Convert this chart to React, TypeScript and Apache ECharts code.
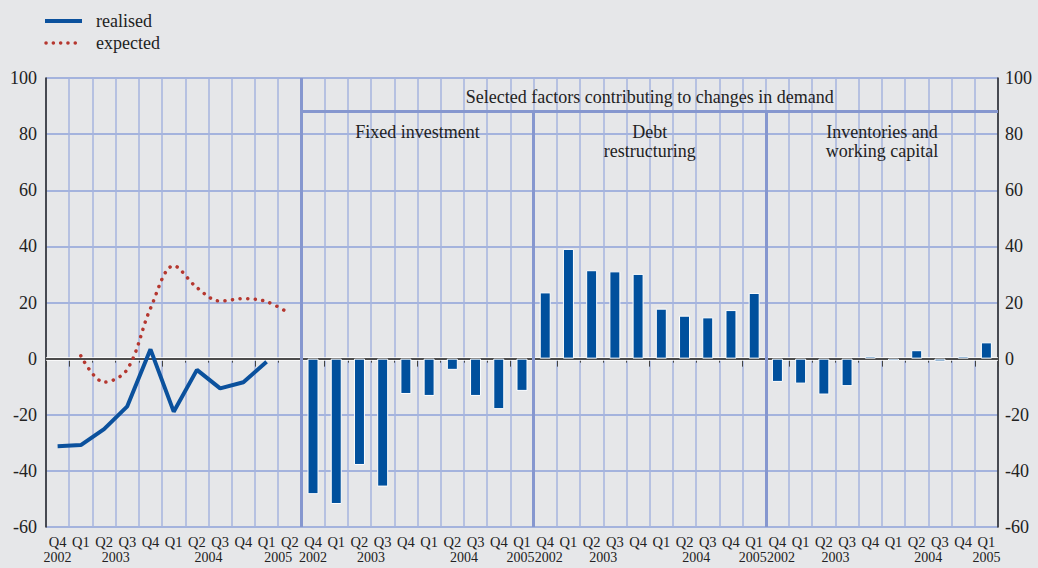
import React, { useEffect, useRef } from "react";
import * as echarts from "echarts";

const FONT = "'Liberation Serif', 'Times New Roman', serif";

// Category (quarter) labels
const leftQuarters = ["Q4", "Q1", "Q2", "Q3", "Q4", "Q1", "Q2", "Q3", "Q4", "Q1", "Q2"];
const leftYears = ["2002", "2003", "2003", "2003", "2003", "2004", "2004", "2004", "2004", "2005", "2005"];
const panelQuarters = ["Q4", "Q1", "Q2", "Q3", "Q4", "Q1", "Q2", "Q3", "Q4", "Q1"];
const panelYears = ["2002", "2003", "2003", "2003", "2003", "2004", "2004", "2004", "2004", "2005"];

// Left panel: survey balances
const realised = [-31.2, -30.8, -25.1, -17.0, 3.3, -18.9, -4.0, -10.6, -8.4, -1.1, null];
const expected = [null, 1.0, -8.4, -3.8, 17.9, 33.1, 25.3, 20.5, 21.4, 20.3, 16.0];

// Right panels: factors
const fixedInvestment = [-48.3, -51.8, -37.9, -45.6, -12.6, -13.3, -4.0, -13.3, -18.0, -11.5];
const debtRestructuring = [23.6, 39.1, 31.5, 31.1, 30.2, 17.8, 15.3, 14.7, 17.3, 23.4];
const inventories = [-8.3, -8.9, -12.8, -9.8, 0.8, -0.8, 3.0, -1.0, 0.8, 5.8];

const panelTitles = ["Fixed investment", "Debt\nrestructuring", "Inventories and\nworking capital"];
const headerTitle = "Selected factors contributing to changes in demand";
const headerLevel = 88;
const legendNames = ["realised", "expected"];

const BLUE = "#0b519d";
const RED = "#b5372f";

export default function App() {
  const ref = useRef<HTMLDivElement>(null);

  useEffect(() => {
    const panels = [fixedInvestment, debtRestructuring, inventories];
    const categories = [...leftQuarters, ...panels.flatMap(() => panelQuarters)];
    const years = [...leftYears, ...panels.flatMap(() => panelYears)];
    const n = categories.length;
    const nLeft = leftQuarters.length;

    // year runs
    const runs: { text: string; start: number; end: number; center: number }[] = [];
    let prevPanel = -1;
    years.forEach((y, i) => {
      const panel = i < nLeft ? 0 : 1 + Math.floor((i - nLeft) / panelQuarters.length);
      const last = runs[runs.length - 1];
      if (last && last.text === y && panel === prevPanel) last.end = i + 1;
      else runs.push({ text: y, start: i, end: i + 1, center: 0 });
      prevPanel = panel;
    });
    runs.forEach((r) => (r.center = (r.start + r.end) / 2));
    // push apart neighbouring single-quarter labels so they do not collide
    const minGap = 1.22;
    for (let k = 1; k < runs.length; k++) {
      const d = runs[k].center - runs[k - 1].center;
      if (d < minGap) {
        const push = (minGap - d) / 2;
        runs[k - 1].center -= push * 0.6;
        runs[k].center += push * 1.4;
      }
    }
    const yearCenters = runs.map((r) => r.center);
    const yearMap = new Map<number, string>();
    runs.forEach((r) => yearMap.set(Math.round(r.center * 1000), r.text));
    const boundaries = Array.from(new Set(runs.flatMap((r) => [r.start, r.end])));

    const barData = [...leftQuarters.map(() => null), ...panels.flatMap((p) => p)];
    const pad = panels.flatMap(() => panelQuarters.map(() => null));
    const realisedData = [...realised, ...pad];
    const expectedData = [...expected, ...pad];

    const panelStarts = panels.map((_, k) => nLeft + k * panelQuarters.length);

    const textStyle = { fontFamily: FONT, fontSize: 18, color: "#222" };

    const chart = echarts.init(ref.current!, null, { renderer: "svg" });
    chart.setOption({
      animation: false,
      backgroundColor: "#e6e7e9",
      textStyle: { fontFamily: FONT },
      graphic: [
        {
          type: "line",
          shape: { x1: 45, y1: 21, x2: 82, y2: 21 },
          style: { stroke: BLUE, lineWidth: 4 },
        },
        {
          type: "text",
          x: 96,
          y: 21,
          style: { text: legendNames[0], ...textStyle, fill: "#222", verticalAlign: "middle" },
        },
        {
          type: "line",
          shape: { x1: 46, y1: 43, x2: 82, y2: 43 },
          style: { stroke: RED, lineWidth: 3.5, lineDash: [0.1, 7.2], lineCap: "round" },
        },
        {
          type: "text",
          x: 96,
          y: 43,
          style: { text: legendNames[1], ...textStyle, fill: "#222", verticalAlign: "middle" },
        },
      ],
      grid: { left: 46, right: 40, top: 78, bottom: 41, containLabel: false },
      xAxis: [
        {
          type: "category",
          data: categories,
          boundaryGap: true,
          position: "bottom",
          axisLine: { show: true, lineStyle: { color: "#444", width: 1 } },
          axisTick: { show: true, length: 4, interval: 0, lineStyle: { color: "#444" } },
          axisLabel: { interval: 0, fontFamily: FONT, fontSize: 14.5, color: "#222", margin: 7 },
          splitLine: { show: true, interval: 0, lineStyle: { color: "#a6b4de", width: 1.5 } },
        },
        {
          type: "value",
          min: 0,
          max: n,
          position: "bottom",
          axisLine: { show: false },
          splitLine: { show: false },
          axisTick: { show: true, customValues: boundaries, length: 8, lineStyle: { color: "#444" } },
          axisLabel: {
            customValues: yearCenters,
            formatter: (v: number) => yearMap.get(Math.round(v * 1000)) ?? "",
            fontFamily: FONT,
            fontSize: 14,
            color: "#222",
            margin: 23,
          },
        },
      ],
      yAxis: [
        {
          type: "value",
          min: -60,
          max: 100,
          interval: 20,
          position: "left",
          axisLine: { show: true, lineStyle: { color: "#222", width: 1.5 } },
          axisTick: { show: false },
          axisLabel: { fontFamily: FONT, fontSize: 18, color: "#222", margin: 9 },
          splitLine: { show: true, lineStyle: { color: "#8ea2d8", width: 1.5 } },
        },
        {
          type: "value",
          min: -60,
          max: 100,
          interval: 20,
          position: "right",
          axisLine: { show: true, lineStyle: { color: "#222", width: 1.5 } },
          axisTick: { show: false },
          axisLabel: { fontFamily: FONT, fontSize: 18, color: "#222", margin: 7 },
          splitLine: { show: false },
        },
      ],
      series: [
        {
          type: "line",
          name: "zero-halo",
          xAxisIndex: 1,
          yAxisIndex: 0,
          data: [],
          z: 1,
          markLine: {
            silent: true,
            z: 1,
            symbol: ["none", "none"],
            label: { show: false },
            lineStyle: { color: "#ffffff", width: 3.5, type: "solid" },
            data: [[{ coord: [0, 0] }, { coord: [n, 0] }]],
          },
        },
        {
          type: "line",
          name: "zero",
          xAxisIndex: 1,
          yAxisIndex: 0,
          data: [],
          z: 2,
          markLine: {
            silent: true,
            z: 2,
            symbol: ["none", "none"],
            label: { show: false },
            lineStyle: { color: "#111", width: 1.5, type: "solid" },
            data: [[{ coord: [0, 0] }, { coord: [n, 0] }]],
          },
        },
        {
          type: "line",
          name: "separators",
          xAxisIndex: 1,
          yAxisIndex: 0,
          data: [],
          z: 2,
          markLine: {
            silent: true,
            z: 2,
            symbol: ["none", "none"],
            label: { show: false },
            lineStyle: { color: "#8697cf", width: 3, type: "solid" },
            data: [
              [{ coord: [nLeft, 100] }, { coord: [nLeft, -60] }],
              ...panelStarts.slice(1).map((s) => [{ coord: [s, headerLevel] }, { coord: [s, -60] }]),
              [
                {
                  coord: [nLeft, headerLevel],
                  label: {
                    show: true,
                    position: "insideMiddleTop",
                    formatter: headerTitle,
                    distance: 6,
                    ...textStyle,
                  },
                },
                { coord: [n, headerLevel] },
              ],
            ],
          },
          markArea: {
            silent: true,
            z: 1,
            itemStyle: { color: "rgba(0,0,0,0)" },
            label: {
              show: true,
              position: "insideTop",
              distance: 11,
              ...textStyle,
              lineHeight: 19,
            },
            data: panelStarts.map((s, k) => [
              { name: panelTitles[k], coord: [s, headerLevel] },
              { coord: [s + panelQuarters.length, 60] },
            ]),
          },
        },
        {
          type: "bar",
          name: "factors",
          data: barData,
          barWidth: 11,
          barMinHeight: 1,
          z: 3,
          itemStyle: { color: "#00509d", borderColor: "#ffffff", borderWidth: 1 },
        },
        {
          type: "line",
          name: legendNames[0],
          data: realisedData,
          symbol: "none",
          z: 4,
          color: BLUE,
          lineStyle: { color: BLUE, width: 4 },
        },
        {
          type: "line",
          name: legendNames[1],
          data: expectedData,
          symbol: "none",
          smooth: 0.35,
          z: 4,
          color: RED,
          lineStyle: { color: RED, width: 3.5, type: [0.1, 7.5], cap: "round" },
        },
      ],
    });
    return () => chart.dispose();
  }, []);

  return (
    <div
      ref={ref}
      style={{ position: "fixed", left: 0, top: 0, width: 1038, height: 568, background: "#e6e7e9" }}
    />
  );
}
